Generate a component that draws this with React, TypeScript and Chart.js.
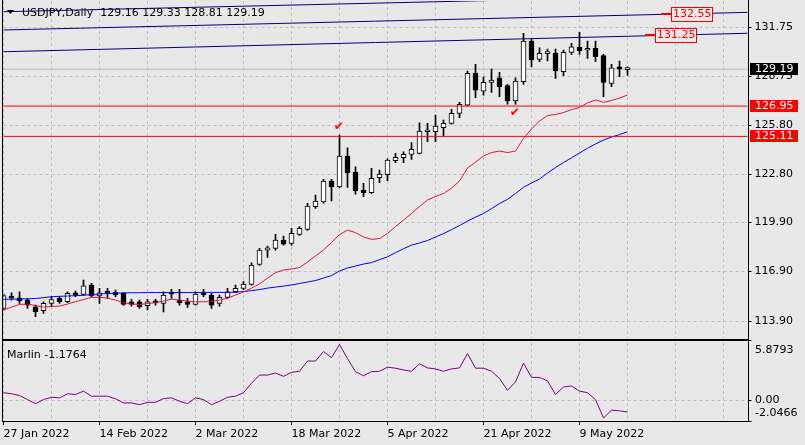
import React, { useEffect, useRef } from "react";
import { Chart, registerables } from "chart.js";

Chart.register(...registerables);

const BG = "#e8e8e8";
const GRID = "#c0c0c0";
const FONT = "DejaVu Sans";

// daily bars (weekdays) from 27 Jan 2022, plus empty space on the right
const monthNames = ["Jan", "Feb", "Mar", "Apr", "May", "Jun"];
const dates: string[] = [];
{
  const d = new Date(Date.UTC(2022, 0, 27));
  while (dates.length < 94) {
    const wd = d.getUTCDay();
    if (wd !== 0 && wd !== 6) {
      dates.push(`${d.getUTCDate()} ${monthNames[d.getUTCMonth()]} ${d.getUTCFullYear()}`);
    }
    d.setUTCDate(d.getUTCDate() + 1);
  }
}
const lastDateLabel = 72; // "9 May 2022" is the last date shown

const opens = [
  114.67, 115.4, 115.31, 115.17, 114.77, 114.53, 114.97, 115.28, 115.07, 115.62,
  115.52, 116.08, 115.42, 115.65, 115.64, 115.58, 115.07, 115.07, 114.83, 115.13,
  114.97, 115.64, 115.17, 115.07, 114.91, 115.56, 115.48, 114.97, 115.34, 115.68,
  115.88, 116.13, 117.34, 118.21, 118.31, 118.82, 118.62, 119.16, 119.47, 120.84,
  121.14, 122.4, 122.05, 123.92, 122.95, 121.85, 121.69, 122.6, 122.78, 123.63,
  123.82, 124.02, 124.08, 125.39, 125.39, 125.64, 125.9, 126.51, 127.01, 128.94,
  127.86, 128.39, 128.67, 128.19, 127.26, 128.43, 130.9, 129.79, 130.14, 130.15,
  129.04, 130.21, 130.52, 130.34, 130.46, 130.01, 128.33, 129.34, 129.16,
];
const highs = [
  115.55, 115.62, 115.68, 115.28, 114.87, 115.07, 115.38, 115.38, 115.68, 115.72,
  116.39, 116.19, 115.88, 115.88, 115.78, 115.62, 115.22, 115.17, 115.22, 115.22,
  115.68, 115.82, 115.82, 115.28, 115.68, 115.82, 115.58, 115.48, 115.88, 116.08,
  116.29, 117.44, 118.31, 118.45, 119.16, 119.06, 119.53, 119.63, 121.05, 121.55,
  122.5, 122.5, 125.19, 124.42, 123.27, 122.26, 123.17, 123.07, 123.75, 124.08,
  124.18, 124.73, 125.94, 125.9, 126.41, 126.1, 126.75, 127.18, 129.08, 129.48,
  128.73, 129.2, 129.0, 128.27, 128.67, 131.37, 131.02, 130.49, 130.41, 130.41,
  130.35, 130.76, 131.43, 130.9, 130.9, 130.09, 129.48, 129.69, 129.33,
];
const lows = [
  114.55, 115.17, 114.97, 114.67, 114.16, 114.37, 114.77, 114.97, 115.01, 115.38,
  115.45, 115.38, 114.97, 115.28, 115.38, 114.85, 114.81, 114.67, 114.57, 114.87,
  114.45, 115.28, 114.87, 114.73, 114.87, 115.38, 114.67, 114.81, 115.28, 115.62,
  115.82, 116.08, 117.28, 117.77, 118.21, 118.51, 118.51, 119.1, 119.4, 120.74,
  121.05, 121.2, 122.0, 122.02, 121.61, 121.45, 121.65, 122.3, 122.42, 123.51,
  123.51, 123.72, 124.05, 124.79, 124.79, 125.09, 125.86, 126.24, 126.95, 127.46,
  127.62, 127.78, 127.52, 127.06, 127.06, 128.27, 129.34, 129.64, 129.69, 128.63,
  128.79, 130.09, 130.09, 129.85, 129.64, 127.52, 128.13, 128.73, 128.81,
];
const closes = [
  115.44, 115.3, 115.13, 114.87, 114.46, 114.97, 115.21, 115.07, 115.58, 115.48,
  116.04, 115.42, 115.62, 115.6, 115.48, 114.91, 114.91, 114.77, 115.07, 115.01,
  115.48, 115.53, 115.01, 114.91, 115.54, 115.48, 114.87, 115.34, 115.68, 115.88,
  116.15, 117.3, 118.21, 118.35, 118.82, 118.57, 119.22, 119.53, 120.88, 121.18,
  122.4, 122.05, 123.92, 122.9, 121.81, 121.69, 122.56, 122.82, 123.67, 123.84,
  124.02, 124.32, 125.44, 125.5, 125.74, 125.9, 126.51, 127.06, 128.94, 127.92,
  128.39, 128.53, 128.13, 127.26, 128.47, 130.9, 129.75, 130.15, 130.16, 129.08,
  130.21, 130.55, 130.31, 130.46, 129.95, 128.39, 129.28, 129.2, 129.19,
];

// red moving average
const maFast = [
  114.57, 114.75, 114.91, 114.93, 114.84, 114.75, 114.78, 114.81, 114.93, 115.08,
  115.2, 115.34, 115.34, 115.3, 115.17, 115.02, 114.93, 114.91, 114.96, 115.02,
  115.11, 115.23, 115.17, 115.11, 115.07, 115.07, 115.08, 115.17, 115.28, 115.48,
  115.66, 115.9, 116.15, 116.51, 116.84, 117.0, 117.06, 117.15, 117.48, 117.85,
  118.21, 118.67, 119.15, 119.42, 119.27, 119.0, 118.86, 118.91, 119.22, 119.64,
  120.03, 120.43, 120.85, 121.25, 121.46, 121.64, 121.97, 122.4, 123.19, 123.55,
  123.92, 124.13, 124.22, 124.13, 124.22, 124.99, 125.56, 126.04, 126.38, 126.44,
  126.56, 126.74, 126.86, 127.15, 127.32, 127.18, 127.29, 127.44, 127.62,
];
// blue moving average
const maSlow = [
  115.22, 115.23, 115.24, 115.25, 115.27, 115.32, 115.38, 115.4, 115.42, 115.44,
  115.47, 115.5, 115.54, 115.57, 115.59, 115.61, 115.62, 115.62, 115.63, 115.63,
  115.63, 115.63, 115.63, 115.63, 115.63, 115.64, 115.64, 115.64, 115.64, 115.65,
  115.69, 115.75, 115.81, 115.9, 115.96, 116.02, 116.09, 116.18, 116.27, 116.36,
  116.51, 116.66, 116.94, 117.12, 117.24, 117.36, 117.45, 117.63, 117.8, 118.05,
  118.29, 118.51, 118.64, 118.79, 119.0, 119.21, 119.45, 119.7, 119.97, 120.21,
  120.43, 120.73, 121.03, 121.29, 121.64, 122.02, 122.28, 122.52, 122.89, 123.22,
  123.52, 123.81, 124.1, 124.39, 124.65, 124.89, 125.07, 125.22, 125.39,
];
const marlin = [
  0.72, 0.62, 0.45, 0.05, -0.35, 0.05, 0.28, 0.22, 0.62, 0.55,
  0.88, 0.38, 0.38, 0.38, 0.12, -0.28, -0.28, -0.45, -0.22, -0.22,
  0.15, 0.22, -0.12, -0.35, 0.22, 0.05, -0.45, -0.12, 0.28, 0.38,
  0.72, 1.65, 2.45, 2.45, 2.65, 2.32, 2.72, 2.82, 3.82, 3.82,
  4.75, 4.15, 5.45, 4.05, 2.78, 2.38, 2.78, 2.82, 3.22, 3.12,
  2.95, 2.82, 3.55, 3.15, 3.05, 2.82, 3.05, 3.15, 4.55, 3.12,
  3.12, 2.82, 2.12, 0.95, 1.78, 3.62, 2.22, 2.22, 1.88, 0.55,
  1.28, 1.38, 0.88, 0.72, 0.05, -1.75, -0.98, -1.05, -1.1764,
];

const priceTicks = [131.75, 128.75, 125.8, 122.8, 119.9, 116.9, 113.9];
const marlinTicks = [5.8793, 0, -2.0466];
const levelLines = [126.95, 125.11];
const bidPrice = 129.19;
// channel lines: price at first bar and at last label
const channelStart = [132.68, 131.57, 130.25];
const channelEnd = [133.72, 132.64, 131.37];
const targetPrices = [132.55, 131.25];
const targetBars = [83.4, 81.4];
const checkBars = [41.9, 63.9];
const checkPrices = [125.68, 126.53];

const last = closes.length - 1;
const titleText = `USDJPY,Daily  ${opens[last].toFixed(2)} ${highs[last].toFixed(2)} ${lows[last].toFixed(2)} ${closes[last].toFixed(2)}`;

const font = (size: number) => `${size}px "${FONT}"`;

const noPad = (s: any) => {
  s.paddingTop = 0;
  s.paddingBottom = 0;
  s.paddingLeft = 0;
  s.paddingRight = 0;
};

const overlayPlugin = {
  id: "mtOverlay",
  beforeDraw(chart: any) {
    const { ctx, width, height } = chart;
    ctx.save();
    ctx.fillStyle = BG;
    ctx.fillRect(0, 0, width, height);
    ctx.restore();
  },
  afterDraw(chart: any) {
    const { ctx } = chart;
    const xs = chart.scales.x;
    const ys = chart.scales.y;
    const yi = chart.scales.yInd;
    const L = Math.floor(chart.chartArea.left) - 1;
    const R = Math.round(chart.chartArea.right);
    ctx.save();

    // pane frames
    ctx.fillStyle = "#000";
    ctx.fillRect(L, 0, 1, yi.bottom + 1);
    ctx.fillRect(R, 0, 1, yi.bottom + 1);
    ctx.fillRect(L, Math.round(ys.bottom) - 1, R - L + 1, 2);
    ctx.fillRect(L, Math.round(yi.bottom), R - L + 1, 1);

    // title
    ctx.beginPath();
    ctx.moveTo(7, 10);
    ctx.lineTo(14, 10);
    ctx.lineTo(10.5, 14);
    ctx.closePath();
    ctx.fill();
    ctx.font = font(11);
    ctx.textBaseline = "middle";
    ctx.textAlign = "left";
    ctx.fillText(titleText, 22, 13);
    ctx.fillText(`Marlin ${marlin[last].toFixed(4)}`, 7, 355);

    // price tags on the axis
    const tags = [
      { v: bidPrice, bg: "#000" },
      { v: levelLines[0], bg: "#ff0000" },
      { v: levelLines[1], bg: "#ff0000" },
    ];
    tags.forEach((t) => {
      const py = Math.round(ys.getPixelForValue(t.v));
      ctx.fillStyle = t.bg;
      ctx.fillRect(R + 2, py - 6, 48, 12);
      ctx.fillStyle = "#fff";
      ctx.fillText(t.v.toFixed(2), R + 7, py);
    });

    // indicator axis labels (kept inside the pane)
    ctx.fillStyle = "#000";
    marlinTicks.forEach((v) => {
      let py = yi.getPixelForValue(v);
      py = Math.max(yi.top + 10, Math.min(yi.bottom - 8, py));
      ctx.fillText(v === 0 ? "0.00" : v.toFixed(4), R + 7, py);
    });

    // target labels
    ctx.font = font(11);
    targetPrices.forEach((p, k) => {
      const py = Math.round(ys.getPixelForValue(p));
      const bx = Math.round(xs.getPixelForValue(targetBars[k]));
      ctx.fillStyle = "#ff0000";
      ctx.fillRect(bx - 10, py - 1, 10, 2);
      ctx.fillStyle = BG;
      ctx.fillRect(bx, py - 7, 42, 15);
      ctx.strokeStyle = "#ff0000";
      ctx.lineWidth = 1;
      ctx.strokeRect(bx + 0.5, py - 6.5, 41, 14);
      ctx.fillStyle = "#ff0000";
      ctx.fillText(p.toFixed(2), bx + 2, py + 0.5);
    });

    // check marks
    ctx.font = font(12);
    ctx.textAlign = "center";
    ctx.fillStyle = "#ff0000";
    checkBars.forEach((b, k) => {
      ctx.fillText("\u2714", xs.getPixelForValue(b), ys.getPixelForValue(checkPrices[k]));
    });

    ctx.restore();
  },
};

const App: React.FC = () => {
  const canvasRef = useRef<HTMLCanvasElement | null>(null);

  useEffect(() => {
    document.body.style.margin = "0";
    document.body.style.background = BG;
    const canvas = canvasRef.current;
    if (!canvas) return;

    const first = dates[0];
    const end = dates[dates.length - 1];
    const flat = (v: number) => [
      { x: first, y: v },
      { x: end, y: v },
    ];
    const lineBase = {
      type: "line" as const,
      pointRadius: 0,
      borderWidth: 1,
      fill: false,
      tension: 0,
      yAxisID: "y",
    };

    const chart = new Chart(canvas, {
      type: "bar",
      data: {
        labels: dates,
        datasets: [
          { ...lineBase, data: flat(bidPrice), borderColor: "#b8b8b8", order: 9 } as any,
          {
            type: "bar",
            data: lows.map((l, i) => [l, highs[i]]),
            backgroundColor: "#000",
            barThickness: 1,
            grouped: false,
            yAxisID: "y",
            order: 8,
          },
          {
            type: "bar",
            data: opens.map((o, i) => [o, closes[i]]),
            backgroundColor: closes.map((c, i) => (c >= opens[i] ? "#ffffff" : "#000000")),
            borderColor: "#000",
            borderWidth: 1,
            borderSkipped: false,
            barThickness: 5,
            minBarLength: 2,
            grouped: false,
            yAxisID: "y",
            order: 7,
          },
          { ...lineBase, data: maFast, borderColor: "#dc143c", order: 3 },
          { ...lineBase, data: maSlow, borderColor: "#0000ff", order: 3 },
          ...channelStart.map((s, k) => ({
            ...lineBase,
            data: [
              { x: first, y: s },
              { x: end, y: channelEnd[k] },
            ],
            borderColor: "#000080",
            order: 2,
          })),
          ...levelLines.map((v) => ({
            ...lineBase,
            data: flat(v),
            borderColor: "#ff0000",
            order: 2,
          })),
          { ...lineBase, data: marlin, borderColor: "#800080", yAxisID: "yInd", order: 1 },
        ] as any,
      },
      options: {
        animation: false,
        responsive: true,
        maintainAspectRatio: false,
        events: [],
        layout: { padding: { left: 3.5, top: 1, right: 0, bottom: 0 } },
        plugins: { legend: { display: false }, tooltip: { enabled: false } },
        scales: {
          x: {
            type: "category",
            offset: false,
            afterBuildTicks: (s: any) => {
              s.ticks = s.ticks.filter((t: any) => t.value % 6 === 0);
            },
            afterFit: (s: any) => {
              noPad(s);
              s.height = 24;
            },
            grid: {
              offset: false,
              color: GRID,
              tickLength: 4,
              tickColor: (c: any) =>
                c.tick && c.tick.value % 12 === 0 && c.tick.value <= lastDateLabel
                  ? "#000"
                  : "rgba(0,0,0,0)",
            },
            border: { display: false, dash: [3, 3] },
            ticks: {
              autoSkip: false,
              maxRotation: 0,
              minRotation: 0,
              align: "start",
              padding: 3,
              color: "#000",
              font: { family: FONT, size: 11 },
              callback: (v: any) => {
                const i = Number(v);
                return i % 12 === 0 && i <= lastDateLabel ? dates[i] : "";
              },
            },
          },
          y: {
            position: "right",
            stack: "pane",
            stackWeight: 339,
            min: 112.75,
            max: 133.33,
            afterBuildTicks: (s: any) => {
              s.ticks = priceTicks.map((v) => ({ value: v }));
            },
            afterFit: (s: any) => {
              noPad(s);
              s.width = 57.5;
            },
            grid: { color: GRID, tickLength: 4, tickColor: "#000" },
            border: { display: false, dash: [3, 3] },
            ticks: {
              autoSkip: false,
              padding: 3,
              color: "#000",
              font: { family: FONT, size: 11 },
              callback: (v: any) => Number(v).toFixed(2),
            },
          },
          yInd: {
            position: "right",
            stack: "pane",
            stackWeight: 81,
            min: marlinTicks[2],
            max: marlinTicks[0],
            afterBuildTicks: (s: any) => {
              s.ticks = marlinTicks.map((v) => ({ value: v }));
            },
            afterFit: (s: any) => {
              noPad(s);
              s.width = 57.5;
            },
            grid: {
              color: (c: any) => (c.tick && c.tick.value === 0 ? GRID : "rgba(0,0,0,0)"),
              tickLength: 4,
              tickColor: "#000",
            },
            border: { display: false, dash: [3, 3] },
            ticks: { display: false },
          },
        },
      } as any,
      plugins: [overlayPlugin],
    });

    return () => {
      chart.destroy();
    };
  }, []);

  return (
    <div
      style={{
        position: "fixed",
        left: 0,
        top: 0,
        width: 805,
        height: 445,
        background: BG,
      }}
    >
      <canvas ref={canvasRef} />
    </div>
  );
};

export default App;
